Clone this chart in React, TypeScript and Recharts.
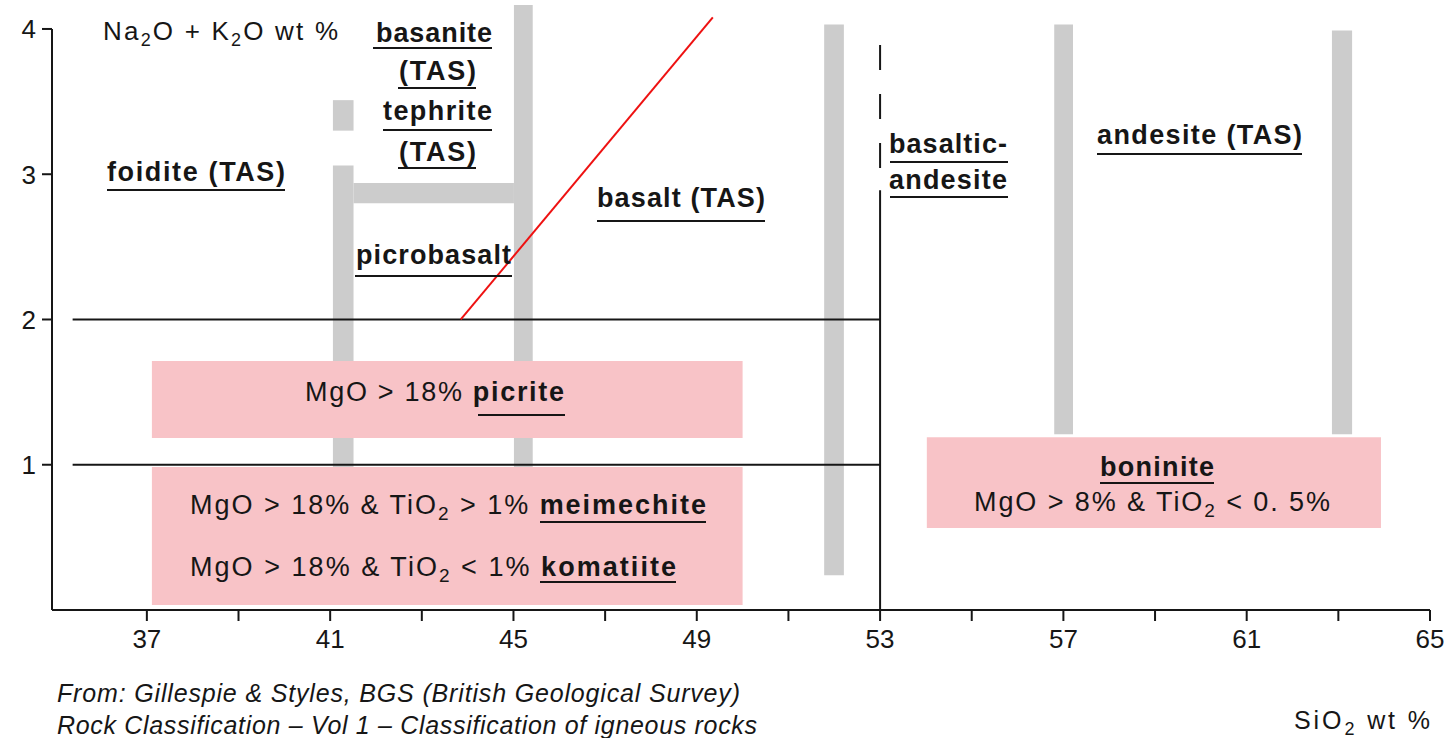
import { ComposedChart, XAxis, YAxis, Line, ReferenceArea, ReferenceLine } from 'recharts'

const W = 1449
const H = 738

// axes (SiO2 wt % across, Na2O + K2O wt % up)
const xDomain: [number, number] = [34.93, 65]
const yDomain: [number, number] = [0, 4.165]
const xTicks = [37, 39, 41, 43, 45, 47, 49, 51, 53, 55, 57, 59, 61, 63, 65]
const xLabelled = [37, 41, 45, 49, 53, 57, 61, 65]
const yTicks = [1, 2, 3, 4]

// grey TAS field boundaries: SiO2 from/to, alkalis from/to
const greyBands = [
  { x1: 41.06, x2: 41.51, y1: 3.3, y2: 3.51 },
  { x1: 41.06, x2: 41.51, y1: 0.94, y2: 3.06 },
  { x1: 41.51, x2: 45.01, y1: 2.8, y2: 2.94 },
  { x1: 45.01, x2: 45.42, y1: 0.93, y2: 4.165 },
  { x1: 51.78, x2: 52.21, y1: 0.24, y2: 4.03 },
  { x1: 56.8, x2: 57.21, y1: 1.21, y2: 4.03 },
  { x1: 62.86, x2: 63.3, y1: 1.21, y2: 3.99 },
]

// high-MgO fields (picrite / meimechite+komatiite / boninite)
const mgoFields = [
  { x1: 37.11, x2: 50.0, y1: 1.184, y2: 1.714 },
  { x1: 37.11, x2: 50.0, y1: 0.034, y2: 0.984 },
  { x1: 54.02, x2: 63.93, y1: 0.565, y2: 1.19 },
]

// black boundaries
const alkaliCuts = [2, 1]
const cutFrom = 35.38
const cutTo = 53
const siO2Cut = 53
const siO2SolidTop = 2.89
const siO2DashedTop = 3.89
const yAxisTop = 4

// red line
const tasLine = [
  { x: 43.85, y: 2 },
  { x: 49.35, y: 4.08 },
]

const ink = '#161616'
const sans = '"Liberation Sans", Arial, Helvetica, sans-serif'

const rockNames = [
  { text: 'basanite', x: 376, y: 42, w: 116, u: [373, 492, 48] },
  { text: '(TAS)', x: 399, y: 80, w: 77, u: [398, 476, 88] },
  { text: 'tephrite', x: 383, y: 120, w: 109, u: [383, 492, 130] },
  { text: '(TAS)', x: 399, y: 161, w: 77, u: [398, 476, 168] },
  { text: 'foidite (TAS)', x: 107, y: 181, w: 178, u: [107, 285, 190] },
  { text: 'picrobasalt', x: 356, y: 264, w: 155, u: [355, 512, 276] },
  { text: 'basalt (TAS)', x: 597, y: 207, w: 168, u: [597, 765, 221] },
  { text: 'basaltic-', x: 889, y: 153, w: 118, u: [890, 1008, 162] },
  { text: 'andesite', x: 889, y: 189, w: 118, u: [890, 1008, 197] },
  { text: 'andesite (TAS)', x: 1097, y: 144, w: 205, u: [1097, 1302, 154] },
  { text: 'boninite', x: 1100, y: 476, w: 114, u: [1100, 1214, 483] },
]

function Underline({ u }: { u: number[] }) {
  return <line x1={u[0]} x2={u[1]} y1={u[2]} y2={u[2]} stroke={ink} strokeWidth={2} />
}

function XTick({ x, y, payload }: any) {
  if (!xLabelled.includes(payload.value)) return null
  return (
    <text x={x} y={y} dy="0.75em" textAnchor="middle" fontSize={26} fontFamily={sans} fill={ink}>
      {payload.value}
    </text>
  )
}

function YTick({ x, y, payload }: any) {
  return (
    <text x={x} y={y} dy="0.36em" textAnchor="end" fontSize={26} fontFamily={sans} fill={ink}>
      {payload.value}
    </text>
  )
}

function Annotations() {
  return (
    <svg
      width={W}
      height={H}
      style={{ position: 'absolute', left: 0, top: 0, pointerEvents: 'none' }}
      fontFamily={sans}
      fill={ink}
    >
      <text x={103} y={40} fontSize={26} textLength={235} lengthAdjust="spacing">
        Na<tspan dy={6} fontSize={18}>2</tspan>
        <tspan dy={-6}>O + K</tspan>
        <tspan dy={6} fontSize={18}>2</tspan>
        <tspan dy={-6}>O wt %</tspan>
      </text>

      {rockNames.map((r, i) => (
        <g key={i}>
          <text x={r.x} y={r.y} fontSize={27} fontWeight="bold" textLength={r.w} lengthAdjust="spacing">
            {r.text}
          </text>
          <Underline u={r.u} />
        </g>
      ))}

      <text x={305} y={401} fontSize={27} textLength={259} lengthAdjust="spacing">
        MgO &gt; 18% <tspan fontWeight="bold">picrite</tspan>
      </text>
      <Underline u={[478, 565, 415]} />

      <text x={190} y={514} fontSize={27} textLength={516} lengthAdjust="spacing">
        MgO &gt; 18% &amp; TiO<tspan dy={6} fontSize={19}>2</tspan>
        <tspan dy={-6}> &gt; 1% </tspan>
        <tspan fontWeight="bold">meimechite</tspan>
      </text>
      <Underline u={[540, 706, 522]} />

      <text x={190} y={576} fontSize={27} textLength={486} lengthAdjust="spacing">
        MgO &gt; 18% &amp; TiO<tspan dy={6} fontSize={19}>2</tspan>
        <tspan dy={-6}> &lt; 1% </tspan>
        <tspan fontWeight="bold">komatiite</tspan>
      </text>
      <Underline u={[540, 676, 582]} />

      <text x={974} y={511} fontSize={27} textLength={356} lengthAdjust="spacing">
        MgO &gt; 8% &amp; TiO<tspan dy={6} fontSize={19}>2</tspan>
        <tspan dy={-6}> &lt; 0. 5%</tspan>
      </text>

      <text x={1294} y={729} fontSize={25} textLength={136} lengthAdjust="spacing">
        SiO<tspan dy={6} fontSize={18}>2</tspan>
        <tspan dy={-6}> wt %</tspan>
      </text>

      <text x={57} y={702} fontSize={25} fontStyle="italic" textLength={683} lengthAdjust="spacing">
        From: Gillespie &amp; Styles, BGS (British Geological Survey)
      </text>
      <text x={57} y={734} fontSize={25} fontStyle="italic" textLength={700} lengthAdjust="spacing">
        Rock Classification – Vol 1 – Classification of igneous rocks
      </text>
    </svg>
  )
}

export default function App() {
  return (
    <div style={{ position: 'absolute', left: 0, top: 0, width: W, height: H, background: '#fff', overflow: 'hidden' }}>
      <ComposedChart width={W} height={H} margin={{ top: 5, right: 19, bottom: 88, left: 0 }}>
        <XAxis
          type="number"
          dataKey="x"
          domain={xDomain}
          allowDataOverflow
          ticks={xTicks}
          height={40}
          tickSize={11}
          tickMargin={7}
          stroke={ink}
          strokeWidth={2}
          tick={<XTick />}
        />
        <YAxis
          type="number"
          domain={yDomain}
          allowDataOverflow
          ticks={yTicks}
          width={52}
          tickSize={10}
          tickMargin={6}
          axisLine={false}
          stroke={ink}
          strokeWidth={2}
          tick={<YTick />}
        />

        {greyBands.map((b, i) => (
          <ReferenceArea key={'g' + i} {...b} fill="#cccccc" fillOpacity={1} stroke="none" />
        ))}
        {mgoFields.map((b, i) => (
          <ReferenceArea key={'m' + i} {...b} fill="#f8c3c7" fillOpacity={1} stroke="none" />
        ))}

        <ReferenceLine
          segment={[{ x: xDomain[0], y: 0 }, { x: xDomain[0], y: yAxisTop }]}
          stroke={ink}
          strokeWidth={2}
        />
        {alkaliCuts.map((y) => (
          <ReferenceLine
            key={'a' + y}
            segment={[{ x: cutFrom, y }, { x: cutTo, y }]}
            stroke={ink}
            strokeWidth={2}
          />
        ))}
        <ReferenceLine
          segment={[{ x: siO2Cut, y: 0 }, { x: siO2Cut, y: siO2SolidTop }]}
          stroke={ink}
          strokeWidth={2}
        />
        <ReferenceLine
          segment={[{ x: siO2Cut, y: siO2DashedTop }, { x: siO2Cut, y: siO2SolidTop }]}
          stroke={ink}
          strokeWidth={2}
          strokeDasharray="25 24"
        />

        <Line
          data={tasLine}
          dataKey="y"
          stroke="#ee1111"
          strokeWidth={2}
          dot={false}
          activeDot={false}
          isAnimationActive={false}
        />
      </ComposedChart>
      <Annotations />
    </div>
  )
}
